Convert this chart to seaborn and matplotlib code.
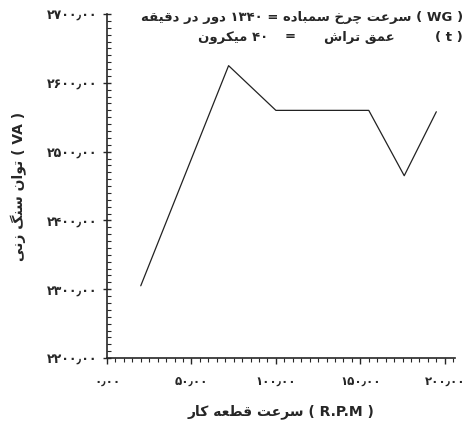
import matplotlib
matplotlib.use("Agg")
import matplotlib.pyplot as plt
from matplotlib.ticker import MultipleLocator, FuncFormatter
import seaborn as sns
import pandas as pd

# data
rpm = [20, 72, 100, 155, 176, 195]
power = [2305, 2625, 2560, 2560, 2465, 2558]
x_ticks = [0, 50, 100, 150, 200]
y_ticks = [2200, 2300, 2400, 2500, 2600, 2700]

x_label = "( R.P.M ) سرعت قطعه کار"
y_label = "( VA ) توان سنگ زنی"
note_1 = "( WG ) سرعت چرخ سمباده = ۱۳۴۰ دور در دقیقه"
note_2 = ["( t )", "عمق تراش", "=", "۴۰ میکرون"]

# minimal arabic-script shaping (presentation forms), matplotlib does no shaping
FORMS = {
    'ا': '\uFE8D\uFE8E', 'ب': '\uFE8F\uFE90\uFE91\uFE92',
    'ت': '\uFE95\uFE96\uFE97\uFE98', 'چ': '\uFB7A\uFB7B\uFB7C\uFB7D',
    'خ': '\uFEA5\uFEA6\uFEA7\uFEA8', 'د': '\uFEA9\uFEAA',
    'ر': '\uFEAD\uFEAE', 'ز': '\uFEAF\uFEB0',
    'س': '\uFEB1\uFEB2\uFEB3\uFEB4', 'ش': '\uFEB5\uFEB6\uFEB7\uFEB8',
    'ط': '\uFEC1\uFEC2\uFEC3\uFEC4', 'ع': '\uFEC9\uFECA\uFECB\uFECC',
    'ق': '\uFED5\uFED6\uFED7\uFED8', 'ک': '\uFB8E\uFB8F\uFB90\uFB91',
    'گ': '\uFB92\uFB93\uFB94\uFB95', 'م': '\uFEE1\uFEE2\uFEE3\uFEE4',
    'ن': '\uFEE5\uFEE6\uFEE7\uFEE8', 'و': '\uFEED\uFEEE',
    'ه': '\uFEE9\uFEEA\uFEEB\uFEEC', 'ی': '\uFBFC\uFBFD\uFBFE\uFBFF',
}


def shape(word):
    out = []
    for i, c in enumerate(word):
        if c not in FORMS:
            out.append(c)
            continue
        f = FORMS[c]
        prev = word[i - 1] if i > 0 else ''
        nxt = word[i + 1] if i + 1 < len(word) else ''
        jp = prev in FORMS and len(FORMS[prev]) == 4
        jn = nxt in FORMS and len(f) == 4
        if jp and jn:
            out.append(f[3])
        elif jp:
            out.append(f[1])
        elif jn:
            out.append(f[2])
        else:
            out.append(f[0])
    return ''.join(out)[::-1]


def rtl(text):
    out = []
    for t in text.split(' '):
        if any(ch in FORMS for ch in t):
            out.append(shape(t))
        else:
            out.append(t.translate(str.maketrans('()', ')(')))
    return ' '.join(out[::-1])


def fa_num(v, pos=None):
    s = f"{v:.2f}".replace('.', '٫')
    return s.translate(str.maketrans('0123456789', '۰۱۲۳۴۵۶۷۸۹'))


sns.set_style("ticks")
plt.rcParams['font.family'] = ['DejaVu Sans']

df = pd.DataFrame({'rpm': rpm, 'power': power})

fig = plt.figure(figsize=(4.74, 4.21), dpi=100)
ax = fig.add_axes([0.2257, 0.1496, 0.734, 0.817])
sns.lineplot(data=df, x='rpm', y='power', color='#222222', lw=0.9, ax=ax)

ax.set_xlim(0, 206)
ax.set_ylim(2200, 2700)
ax.set_xticks(x_ticks)
ax.set_yticks(y_ticks)
ax.xaxis.set_minor_locator(MultipleLocator(5))
ax.yaxis.set_minor_locator(MultipleLocator(10))
ax.xaxis.set_major_formatter(FuncFormatter(fa_num))
ax.yaxis.set_major_formatter(FuncFormatter(fa_num))
ax.tick_params(axis='y', which='major', direction='inout', length=6, width=1, labelsize=9, pad=4)
ax.tick_params(axis='y', which='minor', direction='in', length=3, width=0.8)
ax.tick_params(axis='x', which='major', direction='out', length=4, width=1, labelsize=8.5, pad=8)
ax.tick_params(axis='x', which='minor', direction='out', length=3, width=0.8)
for lab in ax.get_xticklabels() + ax.get_yticklabels():
    lab.set_fontweight('bold')
sns.despine(ax=ax)
for sp in ['left', 'bottom']:
    ax.spines[sp].set_linewidth(1.2)

ax.set_xlabel(rtl(x_label), fontsize=10, fontweight='bold', labelpad=12)
ax.set_ylabel(rtl(y_label), fontsize=10, fontweight='bold', labelpad=14)

fs = 9.5
fig.text(463 / 474, 1 - 17 / 421, rtl(note_1), ha='right', va='center', fontsize=fs, fontweight='bold')
fig.text(463 / 474, 1 - 37 / 421, note_2[0], ha='right', va='center', fontsize=fs, fontweight='bold')
fig.text(395 / 474, 1 - 37 / 421, rtl(note_2[1]), ha='right', va='center', fontsize=fs, fontweight='bold')
fig.text(290 / 474, 1 - 37 / 421, note_2[2], ha='center', va='center', fontsize=fs, fontweight='bold')
fig.text(268 / 474, 1 - 37 / 421, rtl(note_2[3]), ha='right', va='center', fontsize=fs, fontweight='bold')

fig.savefig('out.png', dpi=100)
